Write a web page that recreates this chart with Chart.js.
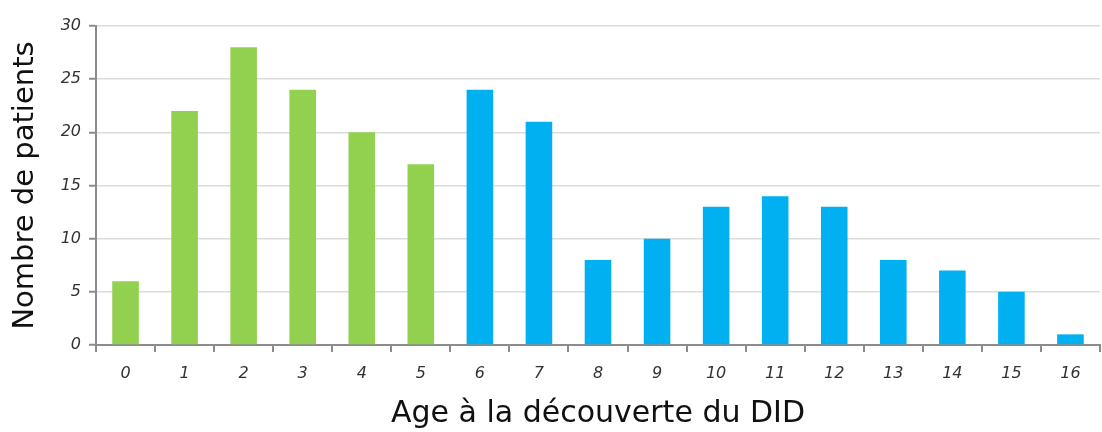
<!DOCTYPE html>
<html>
<head>
<meta charset="utf-8">
<script src="https://cdn.jsdelivr.net/npm/chart.js@4"></script>
<style>
    html, body { margin: 0; padding: 0; background: #fff; }
    #wrap { width: 1102px; height: 432px; }
</style>
</head>
<body>
<div id="wrap"><canvas id="ageChart" width="1102" height="432"></canvas></div>
<script>
// ── Data ──
const AGES = ['0', '1', '2', '3', '4', '5', '6', '7', '8', '9', '10', '11', '12', '13', '14', '15', '16'];
const PATIENTS = [6, 22, 28, 24, 20, 17, 24, 21, 8, 10, 13, 14, 13, 8, 7, 5, 1];
const Y_TICKS = [0, 5, 10, 15, 20, 25, 30];

const GREEN = '#92d050';
const BLUE = '#00b0f0';

// ages 0-5 green, 6+ blue
const barColors = AGES.map(a => Number(a) <= 5 ? GREEN : BLUE);

const tickFont = { family: "'DejaVu Sans', sans-serif", size: 16, style: 'italic' };

new Chart(document.getElementById('ageChart').getContext('2d'), {
    type: 'bar',
    data: {
        labels: AGES,
        datasets: [{
            data: PATIENTS,
            backgroundColor: barColors,
            borderWidth: 0,
            categoryPercentage: 1,
            barPercentage: 0.45,
        }]
    },
    options: {
        responsive: false,
        animation: false,
        layout: { padding: { top: 26, right: 2, left: 0, bottom: 0 } },
        plugins: {
            legend: { display: false },
            tooltip: { enabled: false }
        },
        scales: {
            x: {
                offset: true,
                grid: {
                    offset: true,
                    drawOnChartArea: false,
                    drawTicks: true,
                    tickLength: 7,
                    color: '#8c8c8c',
                    lineWidth: 2,
                },
                border: { color: '#8c8c8c', width: 2 },
                ticks: { color: '#333', font: tickFont, padding: 12 },
                title: {
                    display: true,
                    text: 'Age à la découverte du DID',
                    color: '#111',
                    font: { family: "'DejaVu Sans', sans-serif", size: 30 },
                    padding: { top: 10, bottom: 0 }
                },
                afterFit: s => { s.height = 87; }
            },
            y: {
                min: 0,
                max: 30,
                afterBuildTicks: s => { s.ticks = Y_TICKS.map(v => ({ value: v })); },
                grid: {
                    color: '#dcdcdc',
                    lineWidth: 1.5,
                    tickLength: 7,
                    tickColor: '#8c8c8c',
                    tickWidth: 2,
                },
                border: { color: '#8c8c8c', width: 2 },
                ticks: { color: '#333', font: tickFont, padding: 8 },
                title: {
                    display: true,
                    text: 'Nombre de patients',
                    color: '#111',
                    font: { family: "'DejaVu Sans', sans-serif", size: 29 },
                    padding: { top: 8, bottom: 6 }
                },
                afterFit: s => { s.width = 96; }
            }
        }
    }
});
</script>
</body>
</html>
